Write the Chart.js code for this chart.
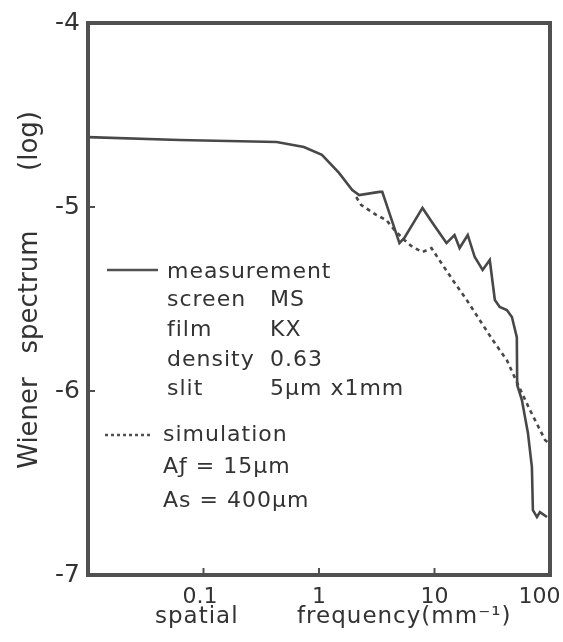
<!DOCTYPE html>
<html>
<head>
  <title>Wiener spectrum</title>
  <script src="https://cdn.jsdelivr.net/npm/chart.js"></script>
  <style>
    body { margin: 0; background: #fff; }
    #wrap { width: 563px; height: 642px; }
  </style>
</head>
<body>
  <div id="wrap"><canvas id="wsChart"></canvas></div>

  <script>
    // measured curve (spatial frequency in mm^-1, log Wiener spectrum)
    const measFreq = [0.01, 0.062, 0.43, 0.74, 1.06, 1.49, 1.94, 2.23, 3.33, 3.53, 4.97, 5.48, 7.87, 9.62,
      12.7, 14.9, 16.5, 19.4, 22.3, 26.1, 30.1, 33.3, 36.7, 42.3, 46.8, 51.6, 52.0, 57.1, 64.4, 69.7,
      71.1, 77.1, 81.8, 94.2];
    const measVal = [-4.62, -4.636, -4.647, -4.674, -4.717, -4.815, -4.908, -4.935, -4.918, -4.918, -5.196,
      -5.168, -5.005, -5.087, -5.196, -5.152, -5.223, -5.152, -5.272, -5.342, -5.288, -5.505, -5.543,
      -5.56, -5.598, -5.707, -5.967, -6.049, -6.228, -6.413, -6.647, -6.685, -6.658, -6.685];

    // simulated curve
    const simFreq = [2.10, 2.32, 3.13, 3.83, 4.49, 5.48, 6.44, 7.87, 9.42, 11.0, 14.4, 19.0, 24.6, 31.9,
      42.3, 51.6, 67.0, 90.6, 100];
    const simVal = [-4.946, -4.989, -5.043, -5.071, -5.125, -5.179, -5.217, -5.245, -5.223, -5.288, -5.397,
      -5.505, -5.614, -5.723, -5.832, -5.951, -6.103, -6.266, -6.29];

    const xTicks = [0.1, 1, 10, 100];
    const yTicks = [-4, -5, -6, -7];

    const legendLines = [
      ['measurement', ''],
      ['screen', 'MS'],
      ['film', 'KX'],
      ['density', '0.63'],
      ['slit', '5\u00b5m x1mm']
    ];
    const simLines = ['simulation', 'A\u0192 = 15\u00b5m', 'As = 400\u00b5m'];

    const ink = '#333';
    const fontFam = '"DejaVu Sans", sans-serif';

    const toPoints = (xs, ys) => xs.map((x, i) => ({ x: x, y: ys[i] }));

    const frameAndText = {
      id: 'frameAndText',
      afterDraw(chart) {
        const ctx = chart.ctx;
        const a = chart.chartArea;
        const xs = chart.scales.x;
        const ys = chart.scales.y;
        ctx.save();
        ctx.strokeStyle = '#505050';
        ctx.lineWidth = 4;
        ctx.strokeRect(a.left, a.top, a.right - a.left, a.bottom - a.top);

        // small inward tick marks
        ctx.lineWidth = 2;
        [0.1, 1, 10].forEach(v => {
          const px = xs.getPixelForValue(v);
          ctx.beginPath(); ctx.moveTo(px, a.bottom); ctx.lineTo(px, a.bottom - 7); ctx.stroke();
        });
        [-5, -6].forEach(v => {
          const py = ys.getPixelForValue(v);
          ctx.beginPath(); ctx.moveTo(a.left, py); ctx.lineTo(a.left + 7, py); ctx.stroke();
        });

        // legend block
        ctx.fillStyle = ink;
        ctx.letterSpacing = '1px';
        ctx.font = '22px ' + fontFam;
        ctx.textBaseline = 'alphabetic';
        ctx.lineWidth = 2.5;
        ctx.beginPath(); ctx.moveTo(107, 270); ctx.lineTo(158, 270); ctx.stroke();
        const rows = [278, 306, 336, 366, 395];
        legendLines.forEach((l, i) => {
          ctx.fillText(l[0], 167, rows[i]);
          if (l[1]) ctx.fillText(l[1], 270, rows[i]);
        });
        ctx.setLineDash([3, 3]);
        ctx.beginPath(); ctx.moveTo(105, 435); ctx.lineTo(151, 435); ctx.stroke();
        ctx.setLineDash([]);
        const simRows = [441, 473, 507];
        simLines.forEach((t, i) => ctx.fillText(t, 163, simRows[i]));

        // x axis title
        ctx.font = '23px ' + fontFam;
        ctx.fillText('spatial', 155, 623);
        ctx.fillText('frequency(mm\u207b\u00b9)', 297, 623);

        // y axis title, rotated, word by word
        ctx.font = '26px ' + fontFam;
        ctx.letterSpacing = '0px';
        ctx.textAlign = 'center';
        [['(log)', 141], ['spectrum', 292], ['Wiener', 423]].forEach(w => {
          ctx.save();
          ctx.translate(37, w[1]);
          ctx.rotate(-Math.PI / 2);
          ctx.fillText(w[0], 0, 0);
          ctx.restore();
        });
        ctx.restore();
      }
    };

    new Chart(document.getElementById('wsChart'), {
      type: 'line',
      data: {
        datasets: [
          {
            label: 'measurement',
            data: toPoints(measFreq, measVal),
            borderColor: '#484848',
            borderWidth: 2.6,
            pointRadius: 0,
            tension: 0
          },
          {
            label: 'simulation',
            data: toPoints(simFreq, simVal),
            borderColor: '#484848',
            borderWidth: 2.6,
            borderDash: [4, 4],
            pointRadius: 0,
            tension: 0
          }
        ]
      },
      options: {
        responsive: true,
        maintainAspectRatio: false,
        animation: false,
        layout: { padding: { top: 23, right: 13, left: 0, bottom: 0 } },
        plugins: {
          legend: { display: false },
          tooltip: { enabled: false }
        },
        scales: {
          x: {
            type: 'logarithmic',
            min: 0.01,
            max: 100,
            afterBuildTicks: s => { s.ticks = xTicks.map(v => ({ value: v })); },
            afterFit: s => { s.height = 67; s.paddingLeft = 0; s.paddingRight = 0; },
            grid: { display: false, drawTicks: false },
            border: { display: false },
            ticks: {
              color: ink,
              padding: 9,
              maxRotation: 0,
              autoSkip: false,
              font: { family: fontFam, size: 22 },
              // last label sits against the page edge, nudge it left like the original
              callback: v => (v === 100 ? '100   ' : v === 0.1 ? '0.1 ' : String(v))
            }
          },
          y: {
            min: -7,
            max: -4,
            afterBuildTicks: s => { s.ticks = yTicks.map(v => ({ value: v })); },
            afterFit: s => { s.width = 88; s.paddingTop = 0; s.paddingBottom = 0; },
            grid: { display: false, drawTicks: false },
            border: { display: false },
            ticks: {
              color: ink,
              padding: 8,
              font: { family: fontFam, size: 25 },
              callback: v => '-' + Math.abs(v)
            }
          }
        }
      },
      plugins: [frameAndText]
    });
  </script>
</body>
</html>
